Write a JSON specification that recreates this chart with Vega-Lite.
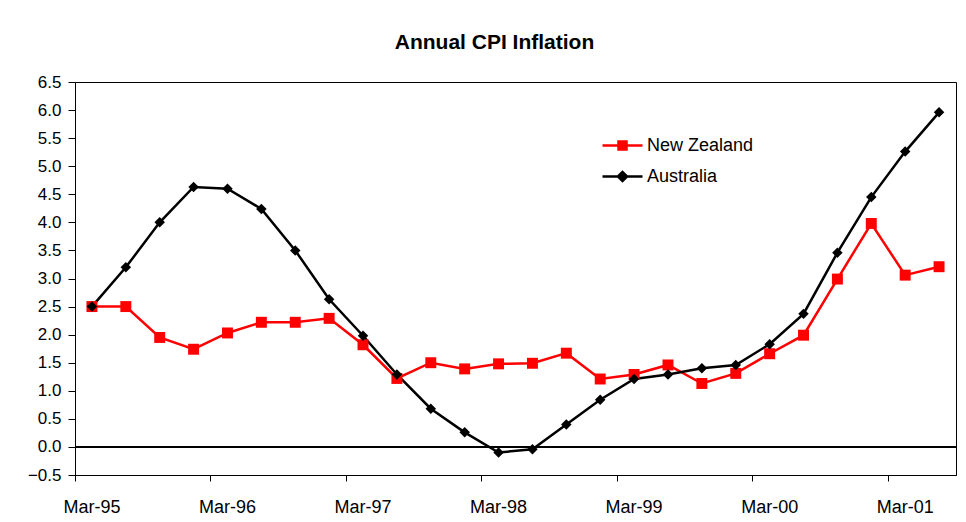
{
  "$schema": "https://vega.github.io/schema/vega-lite/v6.json",
  "autosize": {"type": "none"},
  "width": 881,
  "height": 393,
  "padding": {"left": 75, "top": 82, "right": 10, "bottom": 47},
  "background": "white",
  "config": {
    "font": "Liberation Sans",
    "view": {"stroke": "black", "strokeWidth": 1},
    "axis": {"labelColor": "black", "domainColor": "black", "tickColor": "black", "grid": false, "labelFont": "Liberation Sans"},
    "axisY": {"labelOverlap": false, "tickSize": 7, "labelFontSize": 17, "labelPadding": 7}
  },
  "title": {
    "text": "Annual CPI Inflation",
    "fontSize": 21,
    "fontWeight": "bold",
    "font": "Liberation Sans",
    "color": "black",
    "anchor": "middle",
    "dx": -21,
    "offset": 20
  },
  "data": {
    "values": [
      {"q": "Mar-95", "country": "New Zealand", "v": 2.50}, {"q": "Mar-95", "country": "Australia", "v": 2.50},
      {"q": "Jun-95", "country": "New Zealand", "v": 2.50}, {"q": "Jun-95", "country": "Australia", "v": 3.20},
      {"q": "Sep-95", "country": "New Zealand", "v": 1.95}, {"q": "Sep-95", "country": "Australia", "v": 4.00},
      {"q": "Dec-95", "country": "New Zealand", "v": 1.74}, {"q": "Dec-95", "country": "Australia", "v": 4.63},
      {"q": "Mar-96", "country": "New Zealand", "v": 2.03}, {"q": "Mar-96", "country": "Australia", "v": 4.60},
      {"q": "Jun-96", "country": "New Zealand", "v": 2.22}, {"q": "Jun-96", "country": "Australia", "v": 4.24},
      {"q": "Sep-96", "country": "New Zealand", "v": 2.22}, {"q": "Sep-96", "country": "Australia", "v": 3.50},
      {"q": "Dec-96", "country": "New Zealand", "v": 2.29}, {"q": "Dec-96", "country": "Australia", "v": 2.63},
      {"q": "Mar-97", "country": "New Zealand", "v": 1.82}, {"q": "Mar-97", "country": "Australia", "v": 1.98},
      {"q": "Jun-97", "country": "New Zealand", "v": 1.22}, {"q": "Jun-97", "country": "Australia", "v": 1.29},
      {"q": "Sep-97", "country": "New Zealand", "v": 1.50}, {"q": "Sep-97", "country": "Australia", "v": 0.68},
      {"q": "Dec-97", "country": "New Zealand", "v": 1.39}, {"q": "Dec-97", "country": "Australia", "v": 0.26},
      {"q": "Mar-98", "country": "New Zealand", "v": 1.48}, {"q": "Mar-98", "country": "Australia", "v": -0.10},
      {"q": "Jun-98", "country": "New Zealand", "v": 1.49}, {"q": "Jun-98", "country": "Australia", "v": -0.04},
      {"q": "Sep-98", "country": "New Zealand", "v": 1.67}, {"q": "Sep-98", "country": "Australia", "v": 0.40},
      {"q": "Dec-98", "country": "New Zealand", "v": 1.21}, {"q": "Dec-98", "country": "Australia", "v": 0.84},
      {"q": "Mar-99", "country": "New Zealand", "v": 1.29}, {"q": "Mar-99", "country": "Australia", "v": 1.21},
      {"q": "Jun-99", "country": "New Zealand", "v": 1.46}, {"q": "Jun-99", "country": "Australia", "v": 1.29},
      {"q": "Sep-99", "country": "New Zealand", "v": 1.13}, {"q": "Sep-99", "country": "Australia", "v": 1.40},
      {"q": "Dec-99", "country": "New Zealand", "v": 1.31}, {"q": "Dec-99", "country": "Australia", "v": 1.46},
      {"q": "Mar-00", "country": "New Zealand", "v": 1.66}, {"q": "Mar-00", "country": "Australia", "v": 1.83},
      {"q": "Jun-00", "country": "New Zealand", "v": 1.99}, {"q": "Jun-00", "country": "Australia", "v": 2.37},
      {"q": "Sep-00", "country": "New Zealand", "v": 2.99}, {"q": "Sep-00", "country": "Australia", "v": 3.46},
      {"q": "Dec-00", "country": "New Zealand", "v": 3.98}, {"q": "Dec-00", "country": "Australia", "v": 4.45},
      {"q": "Mar-01", "country": "New Zealand", "v": 3.06}, {"q": "Mar-01", "country": "Australia", "v": 5.26},
      {"q": "Jun-01", "country": "New Zealand", "v": 3.21}, {"q": "Jun-01", "country": "Australia", "v": 5.96}
    ]
  },
  "resolve": {"scale": {"x": "shared", "y": "shared"}, "axis": {"x": "independent"}},
  "layer": [
    {
      "mark": {"type": "line", "strokeWidth": 2.5},
      "encoding": {
        "x": {
          "field": "q", "type": "ordinal", "sort": null, "bandPosition": 0.5,
          "scale": {"type": "band", "paddingInner": 0, "paddingOuter": 0},
          "axis": {
            "orient": "bottom", "title": null, "ticks": false, "domain": false,
            "values": ["Mar-95", "Mar-96", "Mar-97", "Mar-98", "Mar-99", "Mar-00", "Mar-01"],
            "labelAngle": 0, "labelFontSize": 18, "labelPadding": 23
          }
        },
        "y": {
          "field": "v", "type": "quantitative",
          "scale": {"domain": [-0.5, 6.5], "nice": false, "zero": false},
          "axis": {
            "title": null, "tickCount": 30,
            "values": [-0.5, 0, 0.5, 1, 1.5, 2, 2.5, 3, 3.5, 4, 4.5, 5, 5.5, 6, 6.5],
            "format": ".1f", "tickSize": 7, "labelFontSize": 17, "labelPadding": 7, "labelOverlap": false
          }
        },
        "color": {
          "field": "country", "type": "nominal",
          "scale": {"domain": ["New Zealand", "Australia"], "range": ["#ff0000", "#000000"]},
          "legend": {
            "orient": "none", "legendX": 526, "legendY": 42, "title": null,
            "labelFontSize": 18, "labelColor": "black", "labelFont": "Liberation Sans",
            "symbolSize": 1600, "symbolStrokeWidth": 2.5, "rowPadding": 0, "labelOffset": 3,
            "encode": {
              "symbols": {
                "update": {
                  "shape": {"signal": "datum.value === 'New Zealand' ? 'M-1,0H1M-0.2,-0.2H0.2V0.2H-0.2Z' : 'M-1,0H1M-0.23,0L0,-0.23L0.23,0L0,0.23Z'"},
                  "fill": {"signal": "datum.value === 'New Zealand' ? '#ff0000' : '#000000'"},
                  "fillOpacity": {"value": 1}
                }
              }
            }
          }
        }
      }
    },
    {
      "mark": {"type": "rule", "color": "black", "strokeWidth": 1},
      "encoding": {"y": {"datum": 0, "type": "quantitative"}}
    },
    {
      "transform": [{"filter": "datum.country === 'New Zealand'"}],
      "mark": {"type": "point", "filled": true, "opacity": 1, "size": 120, "shape": "square", "color": "#ff0000"},
      "encoding": {
        "x": {
          "field": "q", "type": "ordinal", "sort": null, "bandPosition": 0.5,
          "scale": {"type": "band", "paddingInner": 0, "paddingOuter": 0},
          "axis": {
            "orient": "bottom", "title": null, "labels": false, "ticks": true, "tickSize": 6,
            "bandPosition": 0, "domain": true,
            "values": ["Mar-95", "Mar-96", "Mar-97", "Mar-98", "Mar-99", "Mar-00", "Mar-01"]
          }
        },
        "y": {"field": "v", "type": "quantitative"}
      }
    },
    {
      "transform": [{"filter": "datum.country === 'Australia'"}],
      "mark": {"type": "point", "filled": true, "opacity": 1, "size": 110, "shape": "diamond", "color": "#000000"},
      "encoding": {
        "x": {"field": "q", "type": "ordinal", "sort": null, "bandPosition": 0.5, "axis": null},
        "y": {"field": "v", "type": "quantitative"}
      }
    }
  ]
}
